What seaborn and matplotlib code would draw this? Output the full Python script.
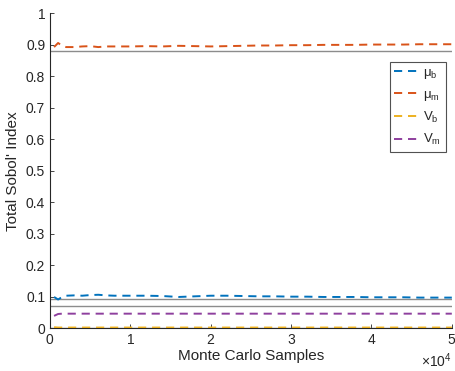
import numpy as np
import pandas as pd
import matplotlib
matplotlib.use("Agg")
import matplotlib.pyplot as plt
import seaborn as sns
from matplotlib.ticker import ScalarFormatter

# Monte Carlo sample counts
samples = [500, 1000, 1500, 2000, 3000, 4000, 5000, 6000, 7000, 8000, 9000, 10000,
           12000, 14000, 16000, 18000, 20000, 22000, 24000, 26000, 28000, 30000,
           32000, 34000, 36000, 38000, 40000, 42000, 44000, 46000, 48000, 50000]

mu_b = [0.100, 0.092, 0.100, 0.104, 0.105, 0.104, 0.106, 0.107, 0.105, 0.104, 0.104, 0.104,
        0.104, 0.103, 0.100, 0.102, 0.104, 0.104, 0.103, 0.102, 0.102, 0.101,
        0.101, 0.100, 0.100, 0.100, 0.099, 0.099, 0.099, 0.098, 0.098, 0.098]
mu_m = [0.893, 0.906, 0.897, 0.893, 0.893, 0.895, 0.896, 0.893, 0.895, 0.895, 0.895, 0.895,
        0.896, 0.895, 0.897, 0.896, 0.895, 0.896, 0.897, 0.898, 0.898, 0.899,
        0.899, 0.900, 0.900, 0.900, 0.901, 0.901, 0.901, 0.902, 0.902, 0.902]
v_b = [0.004, 0.003, 0.003, 0.003, 0.003, 0.003, 0.003, 0.003, 0.003, 0.003, 0.003, 0.003,
       0.003, 0.003, 0.003, 0.003, 0.003, 0.003, 0.003, 0.003, 0.003, 0.003,
       0.003, 0.003, 0.003, 0.003, 0.003, 0.003, 0.003, 0.003, 0.003, 0.003]
v_m = [0.040, 0.046, 0.047, 0.047, 0.047, 0.047, 0.047, 0.047, 0.047, 0.047, 0.047, 0.047,
       0.047, 0.047, 0.047, 0.047, 0.047, 0.047, 0.047, 0.047, 0.047, 0.047,
       0.047, 0.047, 0.047, 0.047, 0.047, 0.047, 0.047, 0.047, 0.047, 0.047]

# reference (converged) values drawn as solid gray lines
reference = [0.881, 0.095, 0.071, 0.002]

labels = [r"μ$_{\rm b}$", r"μ$_{\rm m}$", r"V$_{\rm b}$", r"V$_{\rm m}$"]
colors = ["#0072BD", "#D95319", "#EDB120", "#8E3F9E"]

df = pd.DataFrame({"samples": samples, labels[0]: mu_b, labels[1]: mu_m,
                   labels[2]: v_b, labels[3]: v_m})
long = df.melt(id_vars="samples", var_name="param", value_name="index")

sns.set_style("ticks")
plt.rcParams["font.family"] = ["Liberation Sans", "DejaVu Sans"]
plt.rcParams["mathtext.fontset"] = "custom"
plt.rcParams["mathtext.rm"] = "Liberation Sans"
plt.rcParams["mathtext.it"] = "Liberation Sans:italic"

fig = plt.figure(figsize=(4.55, 3.71), dpi=100)
ax = fig.add_axes([0.11, 0.1146, 0.883, 0.8494])

for r in reference:
    ax.axhline(r, color="#8c8c8c", lw=1.0, zorder=1)

sns.lineplot(data=long, x="samples", y="index", hue="param", palette=colors,
             hue_order=labels, ax=ax, lw=1.4, linestyle=(0, (4.2, 3)), zorder=3)

ax.set_xlim(0, 50000)
ax.set_ylim(0, 1)
ax.set_xticks([0, 10000, 20000, 30000, 40000, 50000])
ax.set_yticks(np.arange(0, 1.01, 0.1))
ax.set_yticklabels(["0", "0.1", "0.2", "0.3", "0.4", "0.5", "0.6", "0.7", "0.8", "0.9", "1"])
fmt = ScalarFormatter(useMathText=True)
fmt.set_powerlimits((0, 0))
ax.xaxis.set_major_formatter(fmt)
ax.xaxis.get_offset_text().set_fontsize(10)
ax.tick_params(direction="in", length=3, labelsize=10, colors="#262626", width=0.6)
for s in ["top", "right"]:
    ax.spines[s].set_visible(False)
for s in ["left", "bottom"]:
    ax.spines[s].set_linewidth(0.8)
    ax.spines[s].set_color("#262626")

ax.set_xlabel("Monte Carlo Samples", fontsize=11, color="#262626", labelpad=1)
ax.set_ylabel("Total Sobol' Index", fontsize=11, color="#262626", labelpad=4)

leg = ax.legend(loc="upper right", bbox_to_anchor=(0.985, 0.845), frameon=True,
                fancybox=False, edgecolor="#262626", fontsize=9.5, handlelength=1.7,
                borderpad=0.35, labelspacing=0.55, handletextpad=0.5, borderaxespad=0)
leg.get_frame().set_linewidth(0.8)
leg.set_title(None)

fig.savefig("out.png", dpi=100)
